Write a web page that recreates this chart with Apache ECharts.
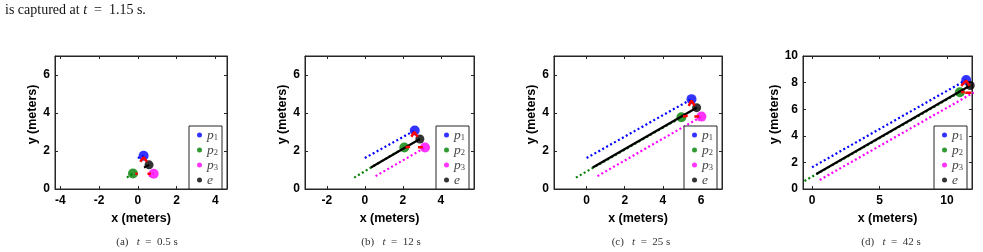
<!DOCTYPE html>
<html><head><meta charset="utf-8">
<script src="https://cdn.jsdelivr.net/npm/echarts@6/dist/echarts.min.js"></script>
<style>html,body{margin:0;padding:0;background:#fff}#c{width:983px;height:252px}</style>
</head><body><div id="c"></div>
<script>
// ---- data ----
const panelLabels = ['(a)', '(b)', '(c)', '(d)'];
const panelTimes = ['0.5', '12', '25', '42'];
const xRanges = [[-4.27, 4.6], [-3.15, 5.75], [-1.71, 7.1], [-0.67, 11.85]];
const yRanges = [[0, 7], [0, 7], [0, 7], [0, 10]];
const xTicks = [[-4, -2, 0, 2, 4], [-2, 0, 2, 4], [0, 2, 4, 6], [0, 5, 10]];
const yTicks = [[0, 2, 4, 6], [0, 2, 4, 6], [0, 2, 4, 6], [0, 2, 4, 6, 8, 10]];
const p1Start = [0, 1.63];
const p2Start = [-0.56, 0.6];
const p3Start = [0.57, 0.68];
const eStart = [0.32, 1.13];
const p1Pos = [[0.3, 1.75], [2.63, 3.08], [5.5, 4.73], [11.42, 8.2]];
const p2Pos = [[-0.25, 0.82], [2.08, 2.18], [4.97, 3.78], [10.95, 7.28]];
const p3Pos = [[0.82, 0.8], [3.17, 2.18], [6.02, 3.81], [11.98, 7.25]];
const ePos = [[0.58, 1.27], [2.9, 2.63], [5.77, 4.28], [11.72, 7.78]];
const redSegs = [
  [[[0.13, 1.44], [0.3, 1.67], [0.47, 1.44]], [[-0.13, 0.8], [0.0, 0.8]], [[0.5, 0.8], [0.68, 0.8]]],
  [[[2.45, 2.75], [2.6, 3.0], [2.78, 2.75]], [[2.15, 2.2], [2.38, 2.22]], [[2.8, 2.2], [3.05, 2.2]]],
  [[[5.35, 4.38], [5.5, 4.65], [5.67, 4.38]], [[5.05, 3.82], [5.3, 3.85]], [[5.65, 3.82], [5.9, 3.82]]],
  [[[11.05, 7.75], [11.42, 8.15], [11.68, 7.75]], [[11.05, 7.28], [11.3, 7.3]], [[11.35, 7.23], [11.8, 7.23]]]
];
const legendNames = ['p1', 'p2', 'p3', 'e'];
const topText = 'is captured at ';
const topTime = '1.15';

// ---- layout / style ----
const gridLefts = [55, 305, 554, 803];
const gridWidths = [172, 169, 168, 169];
const gridTop = 56, gridHeight = 133;
const captionX = [147, 391, 641, 891];
const yNameGap = [12, 12, 12, 20];
const colors = { p1: '#0000ff', p2: '#007f00', p3: '#ff00ff', e: '#000000' };
const axisColor = '#262626';
const sans = 'Liberation Sans';
const serif = 'Liberation Serif';

const grids = [], xAxes = [], yAxes = [], series = [], legends = [], graphics = [];
for (let i = 0; i < 4; i++) {
  grids.push({ left: gridLefts[i], top: gridTop, width: gridWidths[i], height: gridHeight,
    show: true, borderColor: axisColor, borderWidth: 1, backgroundColor: '#fff' });
  const xa = 2 * i, ya = 2 * i;
  xAxes.push({ type: 'value', gridIndex: i, min: xRanges[i][0], max: xRanges[i][1], position: 'bottom',
    name: 'x (meters)', nameLocation: 'middle', nameGap: 20,
    nameTextStyle: { fontFamily: sans, fontWeight: 'bold', fontSize: 12.5, color: '#000' },
    axisLine: { show: true, onZero: false, lineStyle: { color: axisColor } },
    axisTick: { show: true, inside: true, length: 3, customValues: xTicks[i], lineStyle: { color: axisColor } },
    axisLabel: { customValues: xTicks[i], margin: 6, fontFamily: sans, fontWeight: 'bold', fontSize: 12, color: '#000' },
    splitLine: { show: false } });
  xAxes.push({ type: 'value', gridIndex: i, min: xRanges[i][0], max: xRanges[i][1], position: 'top',
    axisLine: { show: true, onZero: false, lineStyle: { color: axisColor } },
    axisTick: { show: true, inside: true, length: 3, customValues: xTicks[i], lineStyle: { color: axisColor } },
    axisLabel: { show: false }, splitLine: { show: false } });
  yAxes.push({ type: 'value', gridIndex: i, min: yRanges[i][0], max: yRanges[i][1], position: 'left',
    name: 'y (meters)', nameLocation: 'middle', nameGap: yNameGap[i],
    nameTextStyle: { fontFamily: sans, fontWeight: 'bold', fontSize: 12.5, color: '#000', padding: [0, 0, 0, 16] },
    axisLine: { show: true, onZero: false, lineStyle: { color: axisColor } },
    axisTick: { show: true, inside: true, length: 3, customValues: yTicks[i], lineStyle: { color: axisColor } },
    axisLabel: { customValues: yTicks[i], margin: 5, fontFamily: sans, fontWeight: 'bold', fontSize: 12, color: '#000' },
    splitLine: { show: false } });
  yAxes.push({ type: 'value', gridIndex: i, min: yRanges[i][0], max: yRanges[i][1], position: 'right',
    axisLine: { show: true, onZero: false, lineStyle: { color: axisColor } },
    axisTick: { show: true, inside: true, length: 3, customValues: yTicks[i], lineStyle: { color: axisColor } },
    axisLabel: { show: false }, splitLine: { show: false } });

  const trails = [
    ['p1', [p1Start, p1Pos[i]], [2, 2.5]],
    ['p2', [p2Start, p2Pos[i]], [2, 2.5]],
    ['p3', [p3Start, p3Pos[i]], [2, 2.5]],
    ['e', [eStart, ePos[i]], 'solid']
  ];
  trails.forEach(([k, d, t]) => series.push({ type: 'line', name: k + ' trail', xAxisIndex: xa, yAxisIndex: ya,
    data: d, showSymbol: false, silent: true, animation: false,
    lineStyle: { color: colors[k], width: 2.2, type: t } }));
  const pos = { p1: p1Pos[i], p2: p2Pos[i], p3: p3Pos[i], e: ePos[i] };
  ['p1', 'p2', 'p3', 'e'].forEach(k => series.push({ type: 'scatter', name: k, xAxisIndex: xa, yAxisIndex: ya,
    data: [pos[k]], symbol: 'circle', symbolSize: k === 'e' ? 9 : 10, animation: false,
    itemStyle: { color: colors[k] } }));
  redSegs[i].forEach(seg => series.push({ type: 'line', name: 'heading', xAxisIndex: xa, yAxisIndex: ya,
    data: seg, showSymbol: false, animation: false, lineStyle: { color: '#ff0000', width: 2.5 } }));

  legends.push({ data: legendNames, orient: 'vertical', left: gridLefts[i] + gridWidths[i] - 38, top: 126,
    icon: 'circle', itemWidth: 5, itemHeight: 5, itemGap: 1, padding: [2, 4, 2, 8],
    backgroundColor: '#fff', borderColor: axisColor, borderWidth: 1, selectedMode: false,
    formatter: n => n === 'e' ? '{i|e}' : '{i|p}{s|' + n.slice(1) + '}',
    textStyle: { color: '#444',
      rich: { i: { fontFamily: serif, fontStyle: 'italic', fontSize: 13.5, lineHeight: 13, color: '#444' },
              s: { fontFamily: serif, fontSize: 8.5, lineHeight: 8, color: '#444', padding: [5, 0, 0, 0] } } } });

  graphics.push({ type: 'text', x: captionX[i], y: 242, silent: true,
    style: { text: '{n|' + panelLabels[i] + '   }{i|t}{n|  =  ' + panelTimes[i] + ' s}',
      align: 'center', verticalAlign: 'middle',
      rich: { n: { fontFamily: serif, fontSize: 11, fill: '#333' },
              i: { fontFamily: serif, fontStyle: 'italic', fontSize: 11, fill: '#333' } } } });
}
graphics.push({ type: 'text', x: 5, y: 10, silent: true,
  style: { text: '{n|' + topText + '}{i|t}{n|  =  ' + topTime + ' s.}', verticalAlign: 'middle',
    rich: { n: { fontFamily: serif, fontSize: 14, fill: '#111' },
            i: { fontFamily: serif, fontStyle: 'italic', fontSize: 14, fill: '#111' } } } });

const chart = echarts.init(document.getElementById('c'), null, { renderer: 'canvas' });
chart.setOption({ animation: false, backgroundColor: '#fff', grid: grids, xAxis: xAxes, yAxis: yAxes,
  series: series, legend: legends, graphic: graphics });
</script></body></html>
